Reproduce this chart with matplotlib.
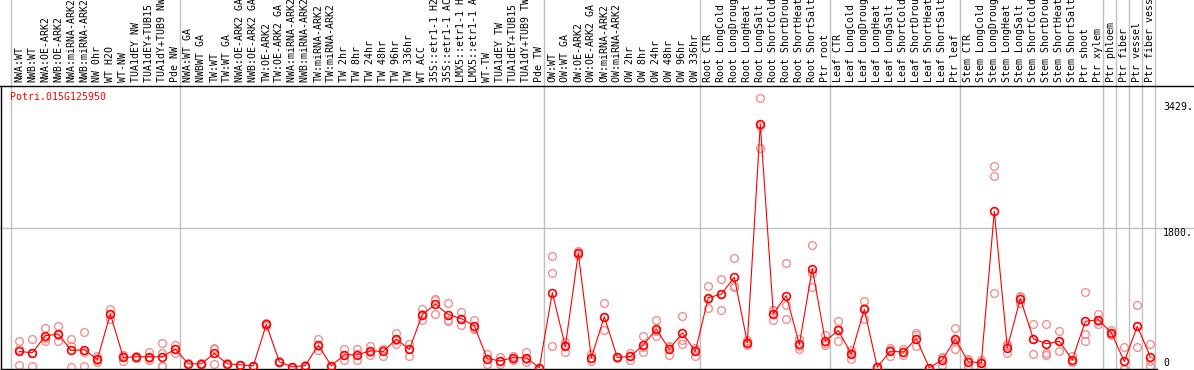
import matplotlib
matplotlib.use("Agg")
import matplotlib.pyplot as plt
from matplotlib.lines import Line2D
from matplotlib.transforms import blended_transform_factory

# sample names, one per column
samples = [
    "NWA:WT", "NWB:WT", "NWA:OE-ARK2", "NWB:OE-ARK2", "NWA:miRNA-ARK2", "NWB:miRNA-ARK2",
    "NW 0hr", "WT H2O", "WT-NW", "TUA1dEY NW", "TUA1dEY+TUB15 NW", "TUA1dY+TUB9 NW", "Pde NW",
    "NWA:WT GA", "NWBWT GA", "TW:WT", "TW:WT GA", "NWA:OE-ARK2 GA", "NWB:OE-ARK2 GA",
    "TW:OE-ARK2", "TW:OE-ARK2 GA", "NWA:miRNA-ARK2 GA", "NWB:miRNA-ARK2 GA", "TW:miRNA-ARK2",
    "TW:miRNA-ARK2 GA", "TW 2hr", "TW 8hr", "TW 24hr", "TW 48hr", "TW 96hr", "TW 336hr",
    "WT ACC", "35S::etr1-1 H2O", "35S::etr1-1 ACC", "LMX5::etr1-1 H2O", "LMX5::etr1-1 ACC",
    "WT-TW", "TUA1dEY TW", "TUA1dEY+TUB15 TW", "TUA1dY+TUB9 TW", "Pde TW",
    "OW:WT", "OW:WT GA", "OW:OE-ARK2", "OW:OE-ARK2 GA", "OW:miRNA-ARK2", "OW:miRNA-ARK2 GA",
    "OW 2hr", "OW 8hr", "OW 24hr", "OW 48hr", "OW 96hr", "OW 336hr",
    "Root CTR", "Root LongCold", "Root LongDrought", "Root LongHeat", "Root LongSalt",
    "Root ShortCold", "Root ShortDrought", "Root ShortHeat", "Root ShortSalt", "Ptr root",
    "Leaf CTR", "Leaf LongCold", "Leaf LongDrought", "Leaf LongHeat", "Leaf LongSalt",
    "Leaf ShortCold", "Leaf ShortDrought", "Leaf ShortHeat", "Leaf ShortSalt", "Ptr leaf",
    "Stem CTR", "Stem LongCold", "Stem LongDrought", "Stem LongHeat", "Stem LongSalt",
    "Stem ShortCold", "Stem ShortDrought", "Stem ShortHeat", "Stem ShortSalt", "Ptr shoot",
    "Ptr xylem", "Ptr phloem", "Ptr fiber", "Ptr vessel", "Ptr fiber vessel",
]

# mean expression per sample
means = [
    213, 196, 416, 437, 226, 235, 110, 696, 136, 145, 145, 145, 243,
    54, 54, 187, 54, 41, 28, 562, 80, 15, 32, 295, 28, 170, 170, 222, 213, 373, 239,
    688, 821, 688, 636, 545, 119, 93, 132, 132, 3,
    972, 278, 1480, 132, 662, 136, 149, 295, 502, 239, 455, 213,
    907, 950, 1170, 326, 3144, 700, 933, 304, 1282, 347,
    485, 179, 756, 10, 218, 205, 377, 3, 106, 373,
    80, 67, 2019, 261, 894, 377, 313, 343, 106, 601,
    623, 455, 84, 537, 145,
]

# replicate values per sample
replicates = [
    [343, 250, 41], [368, 188, 32], [520, 385, 343], [545, 423, 343], [368, 278, 19],
    [468, 209, 28], [153, 97, 80], [765, 636, 690], [153, 84, 170], [160, 130, 145],
    [200, 106, 130], [324, 196, 28, 28], [295, 191, 243],
    [60, 50, 52], [58, 50, 54], [261, 248, 54], [54, 50, 58], [45, 38, 40], [30, 26, 28],
    [584, 540, 562], [85, 75, 80], [19, 12, 15], [36, 28, 32], [368, 235, 282], [30, 26, 28],
    [239, 106, 165], [239, 97, 174], [287, 170, 209], [239, 161, 239], [446, 308, 365],
    [313, 161, 243], [756, 614, 694], [894, 870, 700], [843, 605, 616], [721, 554, 633],
    [614, 502, 519], [183, 54, 120], [140, 54, 85], [161, 106, 129], [205, 80, 111], [5, 2, 2],
    [1437, 1218, 282], [334, 205, 295], [1510, 1480, 1450], [183, 84, 129], [843, 485, 658],
    [140, 130, 138], [196, 97, 154], [411, 200, 274], [614, 411, 481], [265, 170, 282],
    [675, 356, 304], [256, 153, 230],
    [1054, 774, 893], [1153, 743, 954], [1412, 1045, 1053], [356, 291, 331], [3480, 2834, 3118],
    [743, 614, 743], [1347, 817, 636], [377, 248, 287], [1584, 1226, 1045], [420, 326, 295],
    [601, 351, 503], [226, 119, 192], [864, 636, 768], [12, 8, 10], [261, 235, 158],
    [240, 170, 205], [455, 420, 287], [5, 2, 2], [127, 45, 146], [520, 248, 351],
    [97, 32, 111], [106, 19, 76], [2601, 2480, 972], [278, 196, 309], [924, 843, 915],
    [571, 183, 377], [571, 170, 198], [472, 213, 344], [161, 80, 77], [985, 442, 351],
    [692, 571, 606], [494, 420, 451], [270, -10, -10], [808, 265, 538], [304, 88, 28],
]

# last sample of each block (vertical separators)
group_ends = [-1, 12, 40, 52, 62, 72, 83, 84, 85, 86, 87]
gene = "Potri.015G125950"
ytick_vals = [3429, 1800, 0]

W, H = 1194, 370
mono = "DejaVu Sans Mono"
fs = 7.1
pink = "#f09090"

fig = plt.figure(figsize=(W / 100, H / 100), dpi=100)
ax = fig.add_axes([1 / W, 1 / H, 1156 / W, 283 / H])
ax.set_xlim(-1.408, 87.515)
ax.set_ylim(-12.9, 3633.6)

for s in ["top", "right"]:
    ax.spines[s].set_visible(False)
for s in ["left", "bottom"]:
    ax.spines[s].set_linewidth(1.0)
    ax.spines[s].set_color("black")
ax.set_xticks([])
ax.set_yticks([])

# top separator across the full width
fig.add_artist(Line2D([0, 1], [284 / H, 284 / H], color="black", lw=1.0))

# block separators, running up through the label area
for g in group_ends:
    ax.axvline(g + 0.36, ymin=0, ymax=369 / 283, color="#c0c0c0", lw=1.0,
               clip_on=False, zorder=0)

# grid line at 1800 across the full width
ax.axhline(1800, xmin=-1 / 1156, xmax=1193 / 1156, color="#c0c0c0", lw=1.0,
           clip_on=False, zorder=0)

xs = list(range(len(samples)))
for x, reps in zip(xs, replicates):
    ax.plot([x] * len(reps), reps, "o", ms=5.6, mfc="none", mec=pink, mew=1.0,
            clip_on=True, zorder=2)
ax.plot(xs, means, "-", color="red", lw=0.8, zorder=3)
ax.plot(xs, means, "o", ms=5.6, mfc="none", mec="red", mew=1.2, zorder=4)

# sample labels above the plot
trans = blended_transform_factory(ax.transData, ax.transAxes)
for x, name in zip(xs, samples):
    ax.text(x, (369 - 82) / 283, name, rotation=90, ha="center", va="bottom",
            fontsize=fs, family=mono, transform=trans, clip_on=False)

ax.text(9 / 1156, (369 - 92) / 283, gene, color="red", fontsize=fs, family=mono,
        ha="left", va="top", transform=ax.transAxes)

# value labels on the right
ytrans = blended_transform_factory(ax.transAxes, ax.transData)
for v in ytick_vals:
    ax.text(1162 / 1156, v, f"{v}." if v else "0", fontsize=fs, family=mono,
            ha="left", va="top" if v else "bottom", transform=ytrans, clip_on=False)

fig.savefig("out.png", dpi=100)
